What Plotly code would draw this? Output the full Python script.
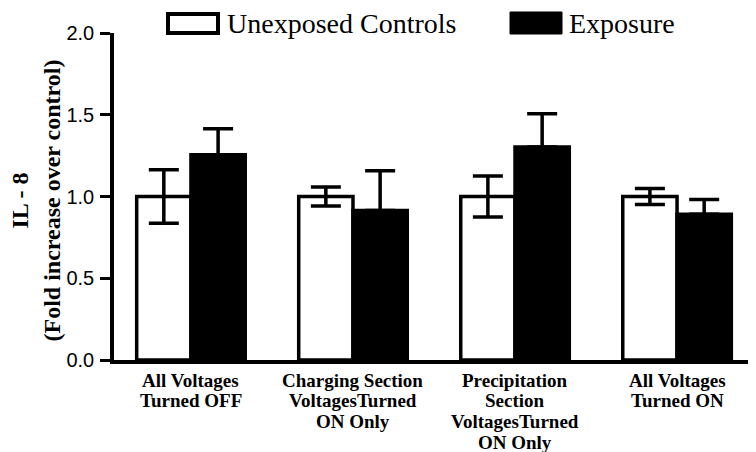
import plotly.graph_objects as go

categories = [
    "All Voltages<br>Turned OFF",
    "Charging Section<br>VoltagesTurned<br>ON Only",
    "Precipitation<br>Section<br>VoltagesTurned<br>ON Only",
    "All Voltages<br>Turned ON",
]
series_names = ["Unexposed Controls", "Exposure"]
unexposed = [1.0, 1.0, 1.0, 1.0]
unexposed_err = [0.163, 0.058, 0.126, 0.049]
exposure = [1.255, 0.915, 1.302, 0.892]
exposure_err = [0.159, 0.242, 0.204, 0.09]
y_tickvals = [0.0, 0.5, 1.0, 1.5, 2.0]
y_ticktext = ["0.0", "0.5", "1.0", "1.5", "2.0"]
y_title_lines = ["IL - 8", "(Fold increase over control)"]

xpos = list(range(len(categories)))

fig = go.Figure()
fig.add_trace(go.Bar(
    x=xpos, y=unexposed, name=series_names[0],
    marker=dict(color="white", line=dict(color="black", width=3.5)),
    error_y=dict(type="data", array=unexposed_err, symmetric=True,
                 color="black", thickness=3.5, width=15),
    showlegend=False,
))
fig.add_trace(go.Bar(
    x=xpos, y=exposure, name=series_names[1],
    marker=dict(color="black", line=dict(color="black", width=3.5)),
    error_y=dict(type="data", array=exposure_err, arrayminus=[0] * len(exposure),
                 symmetric=False, color="black", thickness=3.5, width=15),
    showlegend=False,
))

L, R, T, B = 106, 4, 25, 100
W, H = 756, 452
pw, ph = W - L - R, H - T - B

def px_x(p):
    return (p - L) / pw

def px_y(p):
    return (H - B - p) / ph

annotations = []
# category labels, one annotation per line
for i, lab in enumerate(categories):
    for j, line in enumerate(lab.split("<br>")):
        annotations.append(dict(
            x=xpos[i], y=0, xref="x", yref="paper", text=line, showarrow=False,
            xanchor="center", yanchor="middle", yshift=-20 - 20.8 * j,
            font=dict(family="Liberation Serif", size=19, color="black", weight="bold"),
        ))
# y-axis title lines
for j, (line, shift) in enumerate(zip(y_title_lines, [-95, -63])):
    annotations.append(dict(
        x=0, y=0.5, xref="paper", yref="paper", text=line, showarrow=False,
        textangle=-90, xanchor="center", yanchor="middle", xshift=shift, yshift=-4,
        font=dict(family="Liberation Serif", size=24, color="#000000", weight="bold"),
    ))
# legend texts
for name, xp in zip(series_names, [217, 559]):
    annotations.append(dict(
        x=px_x(xp), y=px_y(15), xref="paper", yref="paper", text=name, showarrow=False,
        xanchor="left", yanchor="middle",
        font=dict(family="Liberation Serif", size=28, color="black"),
    ))

shapes = [
    dict(type="rect", xref="paper", yref="paper",
         x0=px_x(160), x1=px_x(210), y0=px_y(25), y1=px_y(6),
         fillcolor="white", line=dict(color="black", width=4)),
    dict(type="rect", xref="paper", yref="paper",
         x0=px_x(502), x1=px_x(554), y0=px_y(26), y1=px_y(4),
         fillcolor="black", line=dict(color="black", width=1)),
]

fig.update_layout(
    width=W, height=H,
    margin=dict(l=L, r=R, t=T, b=B, pad=0),
    paper_bgcolor="white", plot_bgcolor="white",
    barmode="group", bargap=0.33, bargroupgap=0,
    showlegend=False,
    annotations=annotations, shapes=shapes,
    xaxis=dict(
        range=[-0.475, 3.512], showticklabels=False, ticks="",
        showline=True, linecolor="black", linewidth=4, showgrid=False, zeroline=False,
        fixedrange=True,
    ),
    yaxis=dict(
        range=[0, 2.0], tickvals=y_tickvals, ticktext=y_ticktext,
        ticks="outside", ticklen=10, tickwidth=3, tickcolor="black",
        tickfont=dict(family="Liberation Sans", size=20, color="black"),
        showline=True, linecolor="black", linewidth=3.5, showgrid=False, zeroline=False,
        ticklabelstandoff=2,
    ),
)

fig.write_html("out.html")
